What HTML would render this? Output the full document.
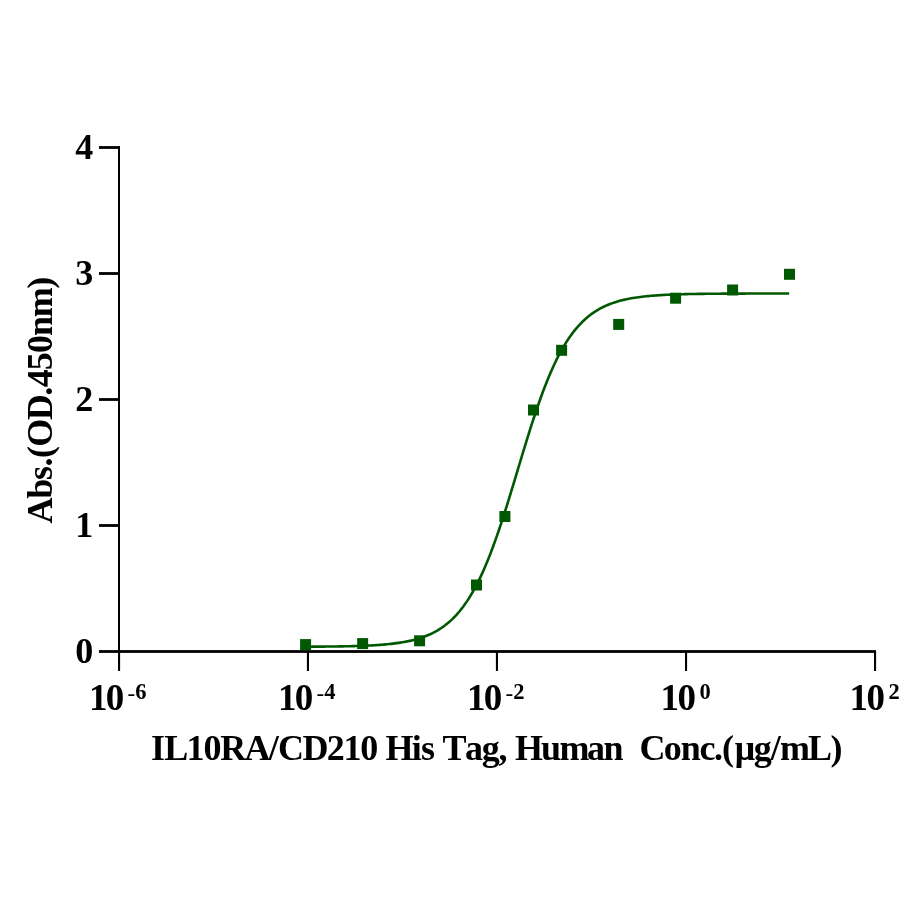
<!DOCTYPE html>
<html lang="en">
<head>
<meta charset="utf-8">
<title>IL10RA/CD210 His Tag, Human ELISA binding curve</title>
<style>
html,body{margin:0;padding:0;background:#fff;}
body{width:914px;height:914px;overflow:hidden;}
svg{display:block;}
text{font-family:"Liberation Serif","Times New Roman",serif;font-weight:bold;fill:#000;white-space:pre;}
.t{font-size:36.0px;}
.tx{font-size:37px;}
.s{font-size:22.5px;}
.h{font-weight:normal;font-size:23px;}
</style>
</head>
<body>
<svg width="914" height="914" viewBox="0 0 914 914">
<rect x="0" y="0" width="914" height="914" fill="#ffffff"/>

<g fill="#000" shape-rendering="auto">
<rect x="118" y="146.1" width="2" height="506.8"/>
<rect x="99" y="650.1" width="777" height="2.8"/>
<rect x="99" y="146.1" width="21" height="2.8"/>
<rect x="99" y="272.1" width="21" height="2.8"/>
<rect x="99" y="398.1" width="21" height="2.8"/>
<rect x="99" y="524.1" width="21" height="2.8"/>
<rect x="118.0" y="651" width="2.1" height="20"/>
<rect x="306.9" y="651" width="2.1" height="20"/>
<rect x="495.9" y="651" width="2.1" height="20"/>
<rect x="685.0" y="651" width="2.1" height="20"/>
<rect x="874.0" y="651" width="2.1" height="20"/>
</g>
<polyline fill="none" stroke="#005800" stroke-width="2.6" stroke-linejoin="round" points="305.60,646.71 307.46,646.70 309.32,646.69 311.18,646.68 313.04,646.67 314.90,646.66 316.76,646.64 318.62,646.63 320.48,646.62 322.34,646.60 324.20,646.59 326.06,646.57 327.92,646.55 329.78,646.53 331.64,646.51 333.50,646.48 335.36,646.46 337.22,646.43 339.08,646.41 340.94,646.37 342.80,646.34 344.66,646.31 346.52,646.27 348.38,646.23 350.24,646.19 352.10,646.14 353.96,646.09 355.82,646.04 357.68,645.98 359.54,645.92 361.40,645.85 363.26,645.78 365.12,645.71 366.98,645.62 368.84,645.54 370.70,645.44 372.56,645.34 374.42,645.24 376.28,645.12 378.14,645.00 380.00,644.87 381.86,644.73 383.72,644.58 385.58,644.41 387.44,644.24 389.30,644.05 391.16,643.85 393.02,643.64 394.88,643.41 396.74,643.16 398.60,642.90 400.46,642.62 402.32,642.32 404.18,641.99 406.04,641.65 407.90,641.28 409.76,640.88 411.62,640.46 413.48,640.00 415.34,639.52 417.20,639.00 419.06,638.44 420.92,637.85 422.78,637.22 424.64,636.54 426.50,635.82 428.36,635.04 430.22,634.22 432.08,633.34 433.94,632.40 435.80,631.39 437.66,630.32 439.52,629.18 441.38,627.97 443.24,626.68 445.10,625.31 446.96,623.84 448.82,622.29 450.68,620.64 452.54,618.89 454.40,617.03 456.26,615.06 458.12,612.97 459.98,610.76 461.84,608.43 463.70,605.96 465.56,603.36 467.42,600.61 469.28,597.72 471.14,594.68 473.00,591.49 474.86,588.13 476.72,584.62 478.58,580.94 480.44,577.10 482.30,573.09 484.16,568.92 486.02,564.57 487.88,560.07 489.74,555.39 491.60,550.56 493.46,545.57 495.32,540.43 497.18,535.14 499.04,529.72 500.90,524.17 502.76,518.49 504.62,512.71 506.48,506.82 508.34,500.85 510.20,494.81 512.06,488.71 513.92,482.56 515.78,476.39 517.64,470.19 519.50,464.00 521.36,457.82 523.22,451.68 525.08,445.58 526.94,439.53 528.80,433.56 530.66,427.68 532.52,421.89 534.38,416.22 536.24,410.66 538.10,405.24 539.96,399.95 541.82,394.81 543.68,389.82 545.54,384.98 547.40,380.31 549.26,375.80 551.12,371.46 552.98,367.28 554.84,363.27 556.70,359.42 558.56,355.75 560.42,352.23 562.28,348.88 564.14,345.68 566.00,342.64 567.86,339.75 569.72,337.00 571.58,334.40 573.44,331.93 575.30,329.59 577.16,327.38 579.02,325.29 580.88,323.32 582.74,321.46 584.60,319.71 586.46,318.06 588.32,316.50 590.18,315.04 592.04,313.67 593.90,312.37 595.76,311.16 597.62,310.02 599.48,308.95 601.34,307.95 603.20,307.01 605.06,306.13 606.92,305.30 608.78,304.53 610.64,303.80 612.50,303.12 614.36,302.49 616.22,301.89 618.08,301.34 619.94,300.82 621.80,300.33 623.66,299.88 625.52,299.46 627.38,299.06 629.24,298.69 631.10,298.34 632.96,298.02 634.82,297.72 636.68,297.44 638.54,297.17 640.40,296.93 642.26,296.70 644.12,296.48 645.98,296.28 647.84,296.10 649.70,295.92 651.56,295.76 653.42,295.61 655.28,295.47 657.14,295.34 659.00,295.21 660.86,295.10 662.72,294.99 664.58,294.89 666.44,294.80 668.30,294.71 670.16,294.63 672.02,294.55 673.88,294.48 675.74,294.42 677.60,294.36 679.46,294.30 681.32,294.25 683.18,294.20 685.04,294.15 686.90,294.11 688.76,294.07 690.62,294.03 692.48,293.99 694.34,293.96 696.20,293.93 698.06,293.90 699.92,293.87 701.78,293.85 703.64,293.83 705.50,293.81 707.36,293.78 709.22,293.77 711.08,293.75 712.94,293.73 714.80,293.72 716.66,293.70 718.52,293.69 720.38,293.68 722.24,293.67 724.10,293.66 725.96,293.65 727.82,293.64 729.68,293.63 731.54,293.62 733.40,293.61 735.26,293.61 737.12,293.60 738.98,293.59 740.84,293.59 742.70,293.58 744.56,293.58 746.42,293.57 748.28,293.57 750.14,293.56 752.00,293.56 753.86,293.56 755.72,293.55 757.58,293.55 759.44,293.55 761.30,293.54 763.16,293.54 765.02,293.54 766.88,293.54 768.74,293.54 770.60,293.53 772.46,293.53 774.32,293.53 776.18,293.53 778.04,293.53 779.90,293.53 781.76,293.53 783.62,293.52 785.48,293.52 787.34,293.52 789.20,293.52"/>
<g fill="#005800">
<rect x="300.10" y="639.10" width="11.0" height="11.0"/>
<rect x="357.15" y="638.10" width="11.0" height="11.0"/>
<rect x="414.10" y="635.30" width="11.0" height="11.0"/>
<rect x="471.00" y="579.50" width="11.0" height="11.0"/>
<rect x="499.40" y="511.00" width="11.0" height="11.0"/>
<rect x="528.00" y="404.50" width="11.0" height="11.0"/>
<rect x="556.10" y="344.80" width="11.0" height="11.0"/>
<rect x="613.20" y="318.90" width="11.0" height="11.0"/>
<rect x="670.10" y="292.70" width="11.0" height="11.0"/>
<rect x="727.10" y="284.50" width="11.0" height="11.0"/>
<rect x="784.00" y="268.80" width="11.0" height="11.0"/>
</g>
<text class="t" x="93.2" y="159.1" text-anchor="end">4</text>
<text class="t" x="93.2" y="285.1" text-anchor="end">3</text>
<text class="t" x="93.2" y="411.1" text-anchor="end">2</text>
<text class="t" x="93.2" y="537.1" text-anchor="end">1</text>
<text class="t" x="93.2" y="663.1" text-anchor="end">0</text>
<text class="tx" x="89.0 105.8" y="709.8">10<tspan class="h" x="127.5" dy="-9.3">-</tspan><tspan class="s" x="135.3" dy="-1.7">6</tspan></text>
<text class="tx" x="278.0 294.8" y="709.8">10<tspan class="h" x="316.5" dy="-9.3">-</tspan><tspan class="s" x="324.3" dy="-1.7">4</tspan></text>
<text class="tx" x="467.0 483.8" y="709.8">10<tspan class="h" x="505.5" dy="-9.3">-</tspan><tspan class="s" x="513.3" dy="-1.7">2</tspan></text>
<text class="tx" x="660.6 677.4" y="709.8">10<tspan class="s" x="699.4" dy="-11.0">0</tspan></text>
<text class="tx" x="849.6 866.4" y="709.8">10<tspan class="s" x="888.4" dy="-11.0">2</tspan></text>
<text class="t" x="151.10 164.18 186.60 203.41 220.22 244.50 268.78 278.12 302.39 326.67 343.48 360.29 377.09 385.50 411.65 420.99 434.07 442.47 464.90 481.70 498.51 506.92 514.92 540.97 559.56 586.97 603.48 623.67 632.08 639.58 663.76 680.77 699.56 713.98 722.09 734.78 753.84 770.65 779.99 807.99 830.41" y="760.1" xml:space="preserve">IL10RA/CD210 His Tag, Human  Conc.(μg/mL)</text>
<text class="t" transform="translate(52.0,523.4) rotate(-90)" x="0.00 24.59 43.53 56.79 65.30 76.64 103.13 127.73 136.24 153.27 170.30 187.32 206.26 234.63" y="0">Abs.(OD.450nm)</text>
</svg>
</body>
</html>
